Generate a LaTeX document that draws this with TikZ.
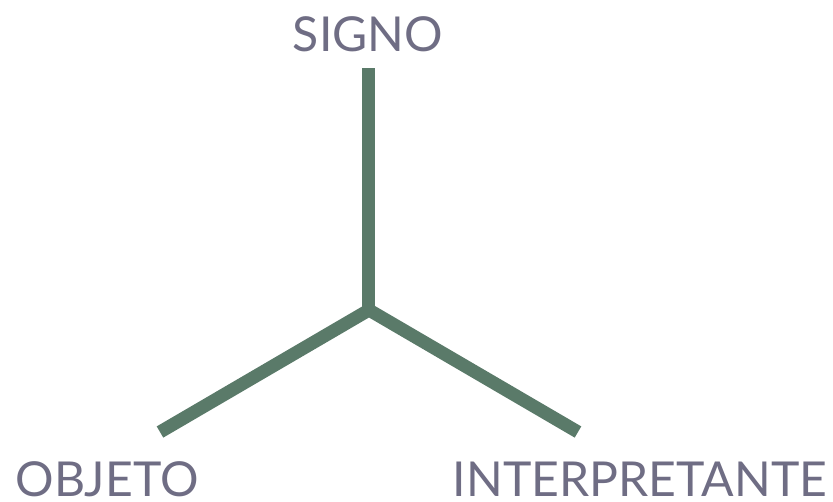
\documentclass[tikz,border=0pt]{standalone}
\usepackage{fontspec}
\setmainfont{Lato}
\usepackage{xcolor}
\definecolor{armgreen}{HTML}{5A7A69}
\definecolor{lblgray}{HTML}{6F6D84}

\begin{document}
\begin{tikzpicture}[
    x=1cm, y=1cm,
    lbl/.style={anchor=base, inner sep=0pt, text=lblgray,
      font=\fontsize{13.7pt}{16pt}\selectfont},
    arm/.style={draw=armgreen, line width=0.13cm, line cap=butt},
  ]
  \useasboundingbox (0,0) rectangle (8.33,5.01);
  % the three ends and the joint
  \coordinate (mid) at (3.69,1.91);
  \coordinate (top) at (3.69,4.33);
  \coordinate (lft) at (1.60,0.69);
  \coordinate (rgt) at (5.78,0.69);
  \draw[arm] (lft) -- (mid) -- (rgt);
  \draw[arm] (mid) -- (top);
  % labels
  \node[lbl] (signo) at (3.68,4.50) {SIGNO};
  \node[lbl] (objeto) at (1.07,0.05) {OBJETO};
  \node[lbl] (interp) at (6.40,0.05) {INTERPRETANTE};
\end{tikzpicture}
\end{document}
